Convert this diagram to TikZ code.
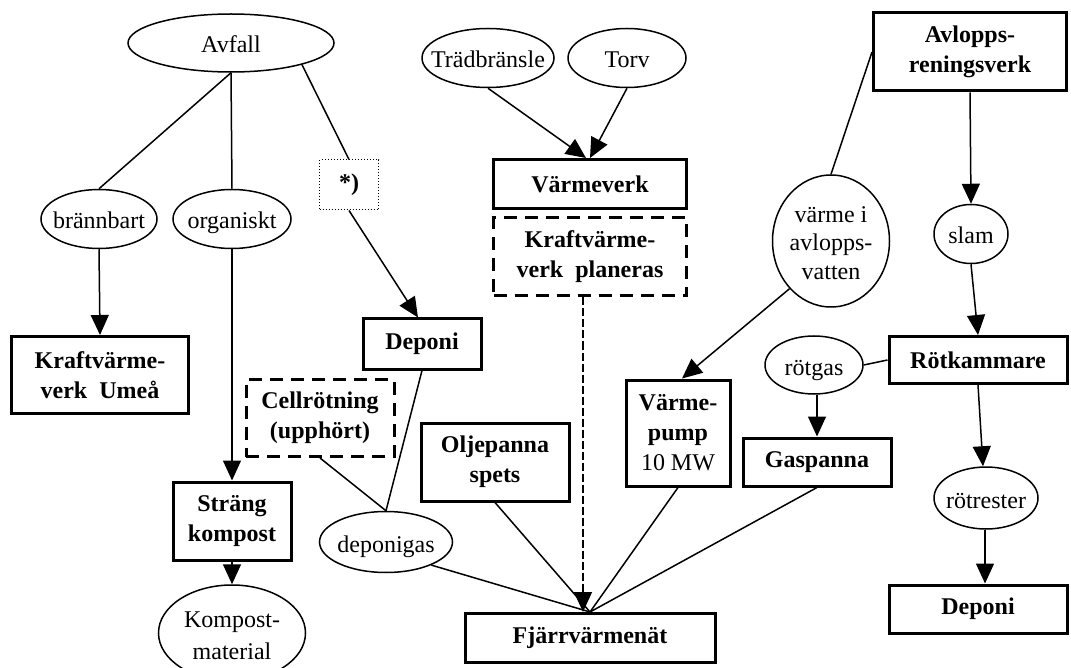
\documentclass[tikz,border=0pt]{standalone}
\usepackage{fontspec}
\setmainfont{Liberation Serif}
\usetikzlibrary{shapes.geometric,arrows.meta}
% centred text that does not widen the surrounding ellipse, set slightly low
\newcommand\otext[1]{\makebox[0pt]{\raisebox{-5pt}[0pt][0pt]{\begin{tabular}{@{}c@{}}#1\end{tabular}}}}

\begin{document}
\begin{tikzpicture}[x=0.5pt,y=-0.5pt,
  every node/.style={font=\fontsize{12}{15}\selectfont, align=center, inner sep=0pt},
  sz/.style 2 args={minimum width=#1*0.5pt, minimum height=#2*0.5pt},
  oval/.style={ellipse, draw, line width=0.75pt},
  plant/.style={rectangle, draw, line width=1.5pt, font=\fontsize{12}{15}\selectfont\bfseries},
  planned/.style={rectangle, draw, line width=1.5pt, dash pattern=on 6.5pt off 4pt, font=\fontsize{12}{15}\selectfont\bfseries},
  note/.style={rectangle, draw, line width=0.5pt, densely dotted, font=\fontsize{12}{15}\selectfont\bfseries},
  link/.style={line width=0.75pt},
  flow/.style={line width=0.75pt, -{Triangle[length=10pt,width=9pt]}},
]
\useasboundingbox (0,0) rectangle (1071,668);
\clip (0,0) rectangle (1071,668);

% waste branch
\node[oval, sz={206}{58}] (avfall) at (231,43) {\otext{Avfall}};
\node[oval, sz={116}{59}] (brann) at (99,219) {\otext{brännbart}};
\node[oval, sz={118}{59}] (org) at (232,219) {\otext{organiskt}};
\node[note, sz={59}{50}] (star) at (349,185) {*)};
\node[plant, sz={177}{77}] (kvu) at (100,375) {Kraftvärme-\\verk~ Umeå};
\node[plant, sz={118}{50}] (dep1) at (422,344) {Deponi};
\node[planned, sz={148}{77}] (cell) at (320,418) {Cellrötning\\(upphört)};
\node[plant, sz={118}{78}] (strang) at (232,521) {Sträng\\kompost};
\node[oval, sz={147}{96}, font=\fontsize{12}{16}\selectfont] (kmat) at (232,633) {\otext{Kompost-\\material}};
\node[oval, sz={133}{61}] (depgas) at (386,542) {\otext{deponigas}};

% fuels and heating plants
\node[oval, sz={132}{59}] (trad) at (488,58) {\otext{Trädbränsle}};
\node[oval, sz={118}{59}] (torv) at (627,58) {\otext{Torv}};
\node[plant, sz={193}{49}] (vv) at (590,184) {Värmeverk};
\node[planned, sz={193}{78}] (kvp) at (590,257) {Kraftvärme-\\verk~ planeras};
\node[plant, sz={148}{78}] (olj) at (495,462) {Oljepanna\\spets};
\node[plant, sz={250}{49}] (fv) at (590,638) {Fjärrvärmenät};
\node[plant, sz={104}{106}] (vp) at (678,433) {Värme-\\pump\\\mdseries 10 MW};

% sewage branch
\node[plant, sz={193}{78}] (avl) at (970,52) {Avlopps-\\reningsverk};
\node[oval, sz={117}{132}, font=\fontsize{12}{14.3}\selectfont] (varme) at (831,241) {\otext{värme i\\avlopps-\\vatten}};
\node[oval, sz={74}{59}] (slam) at (971,234) {\otext{slam}};
\node[plant, sz={178}{47}] (rot) at (978,360) {Rötkammare};
\node[oval, sz={98}{58}] (rotgas) at (814,365) {\otext{rötgas}};
\node[plant, sz={148}{48}] (gas) at (817,462) {Gaspanna};
\node[oval, sz={104}{62}] (rotrest) at (986,498) {\otext{rötrester}};
\node[plant, sz={178}{48}] (dep2) at (978,609) {Deponi};

% connectors
\draw[link] (avfall.south) -- (brann.north);
\draw[link] (avfall.south) -- (org.north);
\draw[link] (avfall.-17) -- (star.north);
\draw[flow] (star.south) -- ([xshift=-2pt]dep1.north);
\draw[flow] (brann.south) -- (kvu.north);
\draw[flow] (org.south) -- (strang.north);
\draw[flow] (strang.south) -- (kmat.north);
\draw[link] (dep1.south) -- (depgas.north);
\draw[link] (cell.south) -- (depgas.north);
\draw[link] (depgas.-27) -- (fv.north);

\draw[flow] (trad.south) -- ([xshift=-2pt]vv.north);
\draw[flow] (torv.south) -- (vv.north);
\draw[line width=0.6pt, dash pattern=on 4pt off 1.5pt, -{Triangle[length=10pt,width=9pt]}]
  ([xshift=-3.5pt]kvp.south) -- ([xshift=-3.5pt]fv.north);
\draw[link] (olj.south) -- (fv.north);
\draw[link] (vp.south) -- (fv.north);
\draw[link] (gas.south) -- (fv.north);

\draw[link] (avl.west) -- (varme.north);
\draw[flow] (varme.229) -- ([xshift=2pt]vp.north);
\draw[flow] (avl.south) -- (slam.north);
\draw[flow] (slam.south) -- (rot.north);
\draw[link] (rotgas.east) -- (rot.west);
\draw[flow] (rotgas.south -| gas.north) -- (gas.north);
\draw[flow] (rot.south) -- ([xshift=-1.5pt]rotrest.north);
\draw[flow] ([xshift=-0.5pt]rotrest.south) -- ([xshift=-0.5pt]rotrest.south |- dep2.north);
\end{tikzpicture}
\end{document}
